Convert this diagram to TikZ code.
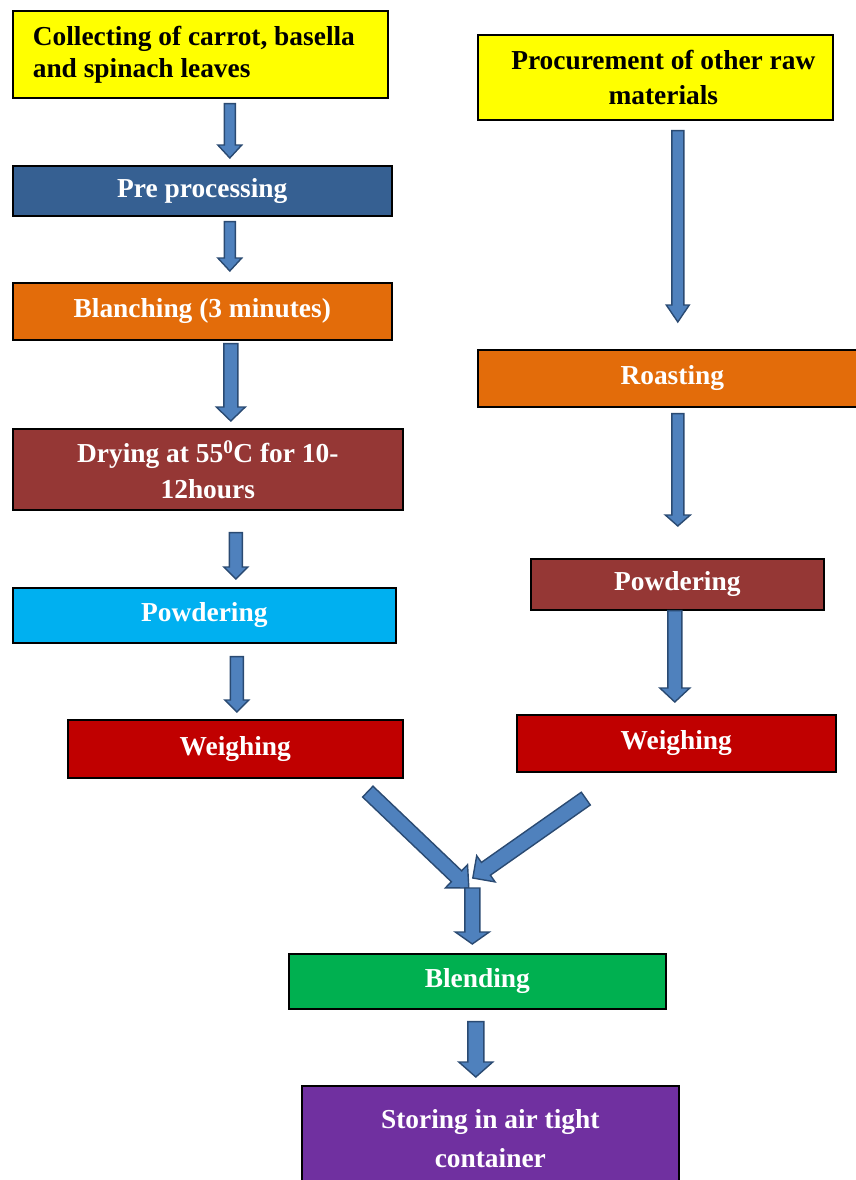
\documentclass[tikz,border=0pt]{standalone}
\usepackage{fontspec}
\setmainfont{Liberation Serif}
\usepackage{xcolor}
\definecolor{yellowBox}{HTML}{FFFF00}
\definecolor{steelBlue}{HTML}{366092}
\definecolor{orangeBox}{HTML}{E36C0A}
\definecolor{brownBox}{HTML}{953735}
\definecolor{cyanBox}{HTML}{00B0F0}
\definecolor{redBox}{HTML}{C00000}
\definecolor{greenBox}{HTML}{00B050}
\definecolor{purpleBox}{HTML}{7030A0}
\definecolor{arrowFill}{HTML}{4F81BD}
\definecolor{arrowEdge}{HTML}{2A4A72}
\usepackage{tikz}
\usetikzlibrary{calc}

\begin{document}
\begin{tikzpicture}[
  x=1pt, y=-1pt,
  font=\bfseries\fontsize{27.4}{35}\selectfont,
  every node/.style={align=center},
  lineSkip/.style={font=\bfseries\fontsize{27.4}{#1}\selectfont},
  box/.style={rectangle, draw=black, line width=1.6pt, fill=#1, text=white, inner sep=0pt, anchor=north west},
  noteBox/.style={box=yellowBox, text=black},
  % block arrow: shaft half width, head half width, head length
  blockArrow/.style n args={3}{draw=arrowEdge, fill=arrowFill, line width=1.4pt, line join=miter,
    to path={let \p1=(\tikztostart), \p2=(\tikztotarget), \n1={atan2(\y2-\y1,\x2-\x1)} in
      ($(\p1)+(\n1+90:#1pt)$)
      -- ($(\p2)+(\n1+180:#3pt)+(\n1+90:#1pt)$)
      -- ($(\p2)+(\n1+180:#3pt)+(\n1+90:#2pt)$)
      -- (\p2)
      -- ($(\p2)+(\n1+180:#3pt)+(\n1-90:#2pt)$)
      -- ($(\p2)+(\n1+180:#3pt)+(\n1-90:#1pt)$)
      -- ($(\p1)+(\n1-90:#1pt)$) -- cycle}},
]
\useasboundingbox (0,0) rectangle (856,1180);

% ------------------- left column -------------------
\node[noteBox, align=flush left, text width=335pt, inner xsep=20pt, minimum height=87pt, lineSkip=32] (collect) at (12,10)
  {Collecting of carrot, basella\\and spinach leaves};
\node[box=steelBlue, minimum width=379pt, minimum height=50pt] (prep) at (12,165) {Pre processing};
\node[box=orangeBox, minimum width=379pt, minimum height=57pt] (blanch) at (12,282) {Blanching (3 minutes)};
\node[box=brownBox, minimum width=390pt, minimum height=81pt, lineSkip=36] (dry) at (12,428)
  {Drying at 55\textsuperscript{0}C for 10-\\12hours};
\node[box=cyanBox, minimum width=383pt, minimum height=55pt] (powL) at (12,587) {Powdering};
\node[box=redBox, minimum width=335pt, minimum height=58pt] (weighL) at (67,719) {Weighing};

% ------------------- right column ------------------
\node[noteBox, minimum width=355pt, minimum height=85pt] (procure) at (477,34)
  {\hspace*{16pt}Procurement of other raw\\\hspace*{16pt}materials};
\node[box=orangeBox, minimum width=389pt, minimum height=57pt] (roast) at (477,349) {Roasting};
\node[box=brownBox, minimum width=293pt, minimum height=51pt] (powR) at (530,558) {Powdering};
\node[box=redBox, minimum width=319pt, minimum height=57pt] (weighR) at (516,714) {Weighing};

% ------------------- merged steps ------------------
\node[box=greenBox, minimum width=377pt, minimum height=55pt] (blend) at (288,953) {Blending};
\node[box=purpleBox, minimum width=377pt, minimum height=105pt, lineSkip=39] (store) at (301,1085)
  {Storing in air tight\\container};
\coordinate (merge) at ([shift={(-6.5,-67)}]blend.north);

% Arrows down the left column
\draw[blockArrow={5.5}{12}{13}] ([shift={(29.5,5)}]collect.south) to ([shift={(27.5,-7)}]prep.north);
\draw[blockArrow={5.5}{12}{13}] ([shift={(27.5,5)}]prep.south) to ([shift={(27.5,-11)}]blanch.north);
\draw[blockArrow={7}{14.5}{14}] ([shift={(28.5,3)}]blanch.south) to ([shift={(23,-7)}]dry.north);
\draw[blockArrow={6.5}{12}{12}] ([shift={(28,22)}]dry.south) to ([shift={(31.5,-8)}]powL.north);
\draw[blockArrow={6.5}{12}{12}] ([shift={(32.5,13)}]powL.south) to ([shift={(1.5,-7)}]weighL.north);

% Arrows down the right column
\draw[blockArrow={6}{11.5}{17}] ([shift={(22.5,10)}]procure.south) to ([shift={(5.5,-27)}]roast.north);
\draw[blockArrow={6}{12.5}{11}] ([shift={(5.5,6)}]roast.south) to ([shift={(0.5,-32)}]powR.north);
\draw[blockArrow={7}{15}{14}] ([shift={(-2.5,0)}]powR.south) to ([shift={(-1.5,-12)}]weighR.north);

% Both weighings meet, then blending and storing
\draw[blockArrow={7.5}{16}{17}] ([shift={(132.5,13)}]weighL.south) to ([shift={(-2,2)}]merge);
\draw[blockArrow={7.8}{16}{16}] ([shift={(-90.5,26)}]weighR.south) to ([shift={(2,-8)}]merge);
\draw[blockArrow={7.5}{17}{12}] ([shift={(1.5,2)}]merge) to ([shift={(-5,-9)}]blend.north);
\draw[blockArrow={8}{17}{15}] ([shift={(-1.5,12)}]blend.south) to ([shift={(-14.5,-8)}]store.north);

\end{tikzpicture}
\end{document}
